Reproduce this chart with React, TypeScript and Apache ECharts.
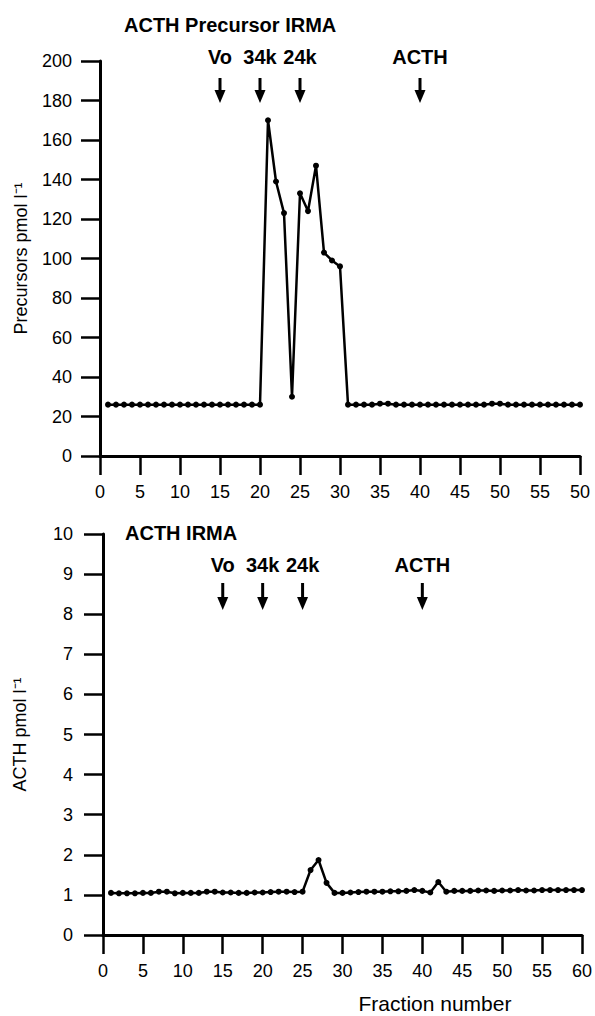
import React, { useEffect, useRef } from "react";
import * as echarts from "echarts";

const FONT = "'Liberation Sans', Arial, Helvetica, sans-serif";

// Top panel: ACTH precursor IRMA
const topFractions = [
  1, 2, 3, 4, 5, 6, 7, 8, 9, 10, 11, 12, 13, 14, 15, 16, 17, 18, 19, 20,
  21, 22, 23, 24, 25, 26, 27, 28, 29, 30, 31, 32, 33, 34, 35, 36, 37, 38, 39, 40,
  41, 42, 43, 44, 45, 46, 47, 48, 49, 50, 51, 52, 53, 54, 55, 56, 57, 58, 59, 60,
];
const topValues = [
  26, 26, 26, 26, 26, 26, 26, 26, 26, 26, 26, 26, 26, 26, 26, 26, 26, 26, 26, 26,
  170, 139, 123, 30, 133, 124, 147, 103, 99, 96, 26, 26, 26, 26, 26.5, 26.5, 26, 26, 26, 26,
  26, 26, 26, 26, 26, 26, 26, 26, 26.5, 26.5, 26, 26, 26, 26, 26, 26, 26, 26, 26, 26,
];
const topXTickLabels = ["0", "5", "10", "15", "20", "25", "30", "35", "40", "45", "50", "55", "50"];

// Bottom panel: ACTH IRMA
const bottomFractions = [
  1, 2, 3, 4, 5, 6, 7, 8, 9, 10, 11, 12, 13, 14, 15, 16, 17, 18, 19, 20,
  21, 22, 23, 24, 25, 26, 27, 28, 29, 30, 31, 32, 33, 34, 35, 36, 37, 38, 39, 40,
  41, 42, 43, 44, 45, 46, 47, 48, 49, 50, 51, 52, 53, 54, 55, 56, 57, 58, 59, 60,
];
const bottomValues = [
  1.05, 1.04, 1.04, 1.04, 1.05, 1.05, 1.08, 1.08, 1.04, 1.05, 1.05, 1.05, 1.08, 1.08, 1.06, 1.06, 1.05, 1.05, 1.06, 1.06,
  1.07, 1.08, 1.08, 1.07, 1.08, 1.62, 1.87, 1.3, 1.05, 1.05, 1.06, 1.07, 1.08, 1.08, 1.08, 1.09, 1.09, 1.1, 1.12, 1.1,
  1.06, 1.32, 1.08, 1.1, 1.1, 1.1, 1.11, 1.11, 1.1, 1.11, 1.11, 1.12, 1.11, 1.11, 1.12, 1.12, 1.12, 1.12, 1.12, 1.12,
];
const bottomXTickLabels = ["0", "5", "10", "15", "20", "25", "30", "35", "40", "45", "50", "55", "60"];

// Marker arrows (fraction numbers)
const markerFractions = [15, 20, 25, 40];
const markerLabels = ["Vo", "34k", "24k", "ACTH"];

const BLACK = "#000";

function xAxisCfg(grid: number, labels: string[], margin: number) {
  return {
    gridIndex: grid,
    type: "value",
    min: 0,
    max: 60,
    interval: 5,
    axisLine: { show: true, lineStyle: { color: BLACK, width: 3 } },
    axisTick: { show: true, length: 19, lineStyle: { color: BLACK, width: 2.5 } },
    axisLabel: {
      color: BLACK,
      fontSize: 18,
      fontFamily: FONT,
      margin,
      formatter: (v: number) => labels[Math.round(v / 5)] ?? "",
    },
    splitLine: { show: false },
  };
}

function yAxisCfg(grid: number, max: number, interval: number, name: string, nameGap: number, margin: number) {
  return {
    gridIndex: grid,
    type: "value",
    min: 0,
    max,
    interval,
    name,
    nameLocation: "middle",
    nameRotate: 90,
    nameGap,
    nameTextStyle: { color: BLACK, fontSize: 18, fontFamily: FONT },
    axisLine: { show: true, lineStyle: { color: BLACK, width: 3 } },
    axisTick: { show: true, length: 19, lineStyle: { color: BLACK, width: 2.5 } },
    axisLabel: { color: BLACK, fontSize: 18, fontFamily: FONT, margin },
    splitLine: { show: false },
  };
}

export default function App() {
  const ref = useRef<HTMLDivElement>(null);

  useEffect(() => {
    if (!ref.current) return;
    const chart = echarts.init(ref.current, undefined, { renderer: "svg" });

    const lineSeries = (xi: number, xs: number[], ys: number[]) => ({
      type: "line",
      xAxisIndex: xi,
      yAxisIndex: xi,
      data: xs.map((x, i) => [x, ys[i]]),
      symbol: "circle",
      symbolSize: 6,
      showAllSymbol: true,
      clip: false,
      lineStyle: { color: BLACK, width: 2.5 },
      itemStyle: { color: BLACK },
    });

    chart.setOption({
      animation: false,
      backgroundColor: "#fff",
      textStyle: { fontFamily: FONT },
      grid: [
        { left: 100, top: 61, width: 480, height: 395 },
        { left: 103, top: 534, width: 482, height: 401 },
      ],
      xAxis: [
        xAxisCfg(0, topXTickLabels, 27),
        xAxisCfg(1, bottomXTickLabels, 27),
      ],
      yAxis: [
        yAxisCfg(0, 200, 20, "Precursors pmol l\u207B\u00B9", 70, 28),
        yAxisCfg(1, 10, 1, "ACTH pmol l\u207B\u00B9", 74, 30),
      ],
      series: [
        lineSeries(0, topFractions, topValues),
        lineSeries(1, bottomFractions, bottomValues),
      ],
    });

    const textStyle = (text: string, font: string, align: string) => ({
      text,
      font,
      fill: BLACK,
      textAlign: align,
      textVerticalAlign: "middle",
      align,
      verticalAlign: "middle",
    });

    const graphics: any[] = [];
    const addMarkers = (axisIdx: number, labelY: number, arrowTop: number, arrowBottom: number) => {
      markerFractions.forEach((f, i) => {
        const x = chart.convertToPixel({ xAxisIndex: axisIdx }, f) as number;
        graphics.push({
          type: "text",
          x,
          y: labelY,
          style: textStyle(markerLabels[i], `bold 20px ${FONT}`, "center"),
        });
        const headTop = arrowBottom - 13;
        graphics.push({
          type: "line",
          shape: { x1: x, y1: arrowTop, x2: x, y2: headTop + 2 },
          style: { stroke: BLACK, lineWidth: 3 },
        });
        graphics.push({
          type: "polygon",
          shape: { points: [[x - 5.5, headTop], [x + 5.5, headTop], [x, arrowBottom]] },
          style: { fill: BLACK },
        });
      });
    };
    addMarkers(0, 57, 78, 103);
    addMarkers(1, 565, 583, 610);

    graphics.push({
      type: "text",
      x: 124,
      y: 25,
      style: textStyle("ACTH Precursor IRMA", `bold 20px ${FONT}`, "left"),
    });
    graphics.push({
      type: "text",
      x: 125,
      y: 533,
      style: textStyle("ACTH IRMA", `bold 20px ${FONT}`, "left"),
    });
    graphics.push({
      type: "text",
      x: 435,
      y: 1003,
      style: textStyle("Fraction number", `21px ${FONT}`, "center"),
    });

    chart.setOption({ graphic: graphics });

    return () => chart.dispose();
  }, []);

  return (
    <div
      ref={ref}
      style={{ position: "fixed", left: 0, top: 0, width: 595, height: 1016, background: "#fff" }}
    />
  );
}
